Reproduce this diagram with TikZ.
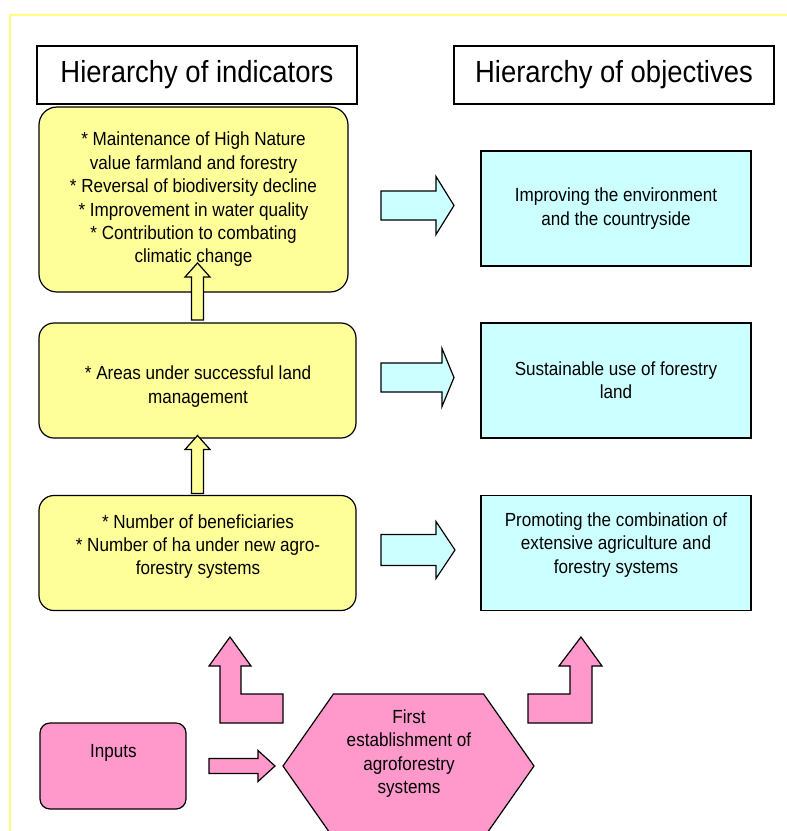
\documentclass[tikz,border=0pt]{standalone}
\usepackage{fontspec}
\setmainfont{Liberation Sans}[FakeStretch=0.9]
\usetikzlibrary{shapes.symbols}

\definecolor{yfill}{HTML}{FFFF99}
\definecolor{cfill}{HTML}{CCFFFF}
\definecolor{pfill}{HTML}{FF99CC}
\definecolor{framey}{HTML}{FFFF80}

\begin{document}
\begin{tikzpicture}[x=1pt,y=-1pt,
    every node/.style={inner sep=0pt,outer sep=0pt},
    txt/.style={font=\fontsize{19}{23.4}\selectfont,align=center},
    hdbox/.style={draw,line width=1.2pt,fill=white,minimum width=320pt,minimum height=58pt,
      font=\fontsize{30.5}{33}\selectfont},
    ybox/.style={draw,line width=1.2pt,fill=yfill,rounded corners=15pt,minimum width=317pt,minimum height=115pt,txt},
    cbox/.style={draw,line width=1.2pt,fill=cfill,minimum width=270pt,minimum height=115pt,txt},
    pbox/.style={draw,line width=1.2pt,fill=pfill,txt},
    blk/.style={draw,line width=1.2pt}]
  \useasboundingbox (0,0) rectangle (787,831);
  \draw[framey,line width=1.5pt] (10,831) |- (787,15);

  % headers
  \node[hdbox] (hind) at (197,75) {Hierarchy of indicators};
  \node[hdbox] (hobj) at (614,75) {Hierarchy of objectives};

  % indicators
  \node[ybox,minimum width=309pt,minimum height=185pt,rounded corners=18pt] (ind1) at (193.5,199.5)
    {* Maintenance of High Nature\\value farmland and forestry\\* Reversal of biodiversity decline\\
     * Improvement in water quality\\* Contribution to combating\\climatic change};
  \node[ybox] (ind2) at (197.5,380.5) {};
  \node[txt] (ind2txt) at (198,386.5) {* Areas under successful land\\management};
  \node[ybox] (ind3) at (197.5,553) {};
  \node[txt] (ind3txt) at (198,546.5) {* Number of beneficiaries\\* Number of ha under new agro-\\forestry systems};

  % objectives
  \node[cbox] (obj1) at (616,208.5) {Improving the environment\\and the countryside};
  \node[cbox] (obj2) at (616,380.5) {Sustainable use of forestry\\land};
  \node[cbox] (obj3) at (616,553) {};
  \node[txt] (obj3txt) at (616,545) {Promoting the combination of\\extensive agriculture and\\forestry systems};

  % inputs and measure
  \node[pbox,rounded corners=10pt,minimum width=146pt,minimum height=86pt] (inputs) at (113,766) {};
  \node[txt] (inputstxt) at (113.5,753) {Inputs};
  \node[pbox,signal,signal to=west and east,signal pointer angle=110,
    minimum width=251pt,minimum height=144pt] (hex) at (408.5,766) {};
  \node[txt] (hextxt) at (409,753.5) {First\\establishment of\\agroforestry\\systems};

  % upward arrows
  \draw[blk,fill=yfill] ([xshift=-6pt,yshift=3pt]ind2.north) -- ++(0,-43) -- ++(-6.5,0)
    -- ++(12.5,-14) -- ++(12.5,14) -- ++(-6.5,0) -- ++(0,43) -- cycle;
  \draw[blk,fill=yfill] ([xshift=-6pt,yshift=2pt]ind3.north) -- ++(0,-44) -- ++(-6.5,0)
    -- ++(12.5,-14) -- ++(12.5,14) -- ++(-6.5,0) -- ++(0,44) -- cycle;

  % arrows to objectives
  \draw[blk,fill=cfill] ([xshift=-27pt,yshift=3pt]obj1.west) -- ++(-18,-29) -- ++(0,14.5)
    -- ++(-55,0) -- ++(0,29) -- ++(55,0) -- ++(0,14.5) -- cycle;
  \draw[blk,fill=cfill] ([xshift=-27pt,yshift=3pt]obj2.west) -- ++(-12,-29) -- ++(0,14.5)
    -- ++(-61,0) -- ++(0,29) -- ++(61,0) -- ++(0,14.5) -- cycle;
  \draw[blk,fill=cfill] ([xshift=-26pt,yshift=3pt]obj3.west) -- ++(-19,-28.5) -- ++(0,13)
    -- ++(-55,0) -- ++(0,31) -- ++(55,0) -- ++(0,13) -- cycle;

  % pink arrows
  \draw[blk,fill=pfill] ([xshift=-8pt]hex.west) -- ++(-17,-15.5) -- ++(0,8) -- ++(-49,0)
    -- ++(0,15) -- ++(49,0) -- ++(0,8) -- cycle;
  \draw[blk,fill=pfill] ([yshift=43pt]hex.west) -- ++(0,-29) -- ++(-42,0) -- ++(0,-28)
    -- ++(10,0) -- ++(-21,-29) -- ++(-21,29) -- ++(11,0) -- ++(0,57) -- cycle;
  \draw[blk,fill=pfill] ([xshift=-6pt,yshift=43pt]hex.east) -- ++(64,0) -- ++(0,-57)
    -- ++(10,0) -- ++(-21,-29) -- ++(-22,29) -- ++(11,0) -- ++(0,28) -- ++(-42,0) -- cycle;
\end{tikzpicture}
\end{document}
